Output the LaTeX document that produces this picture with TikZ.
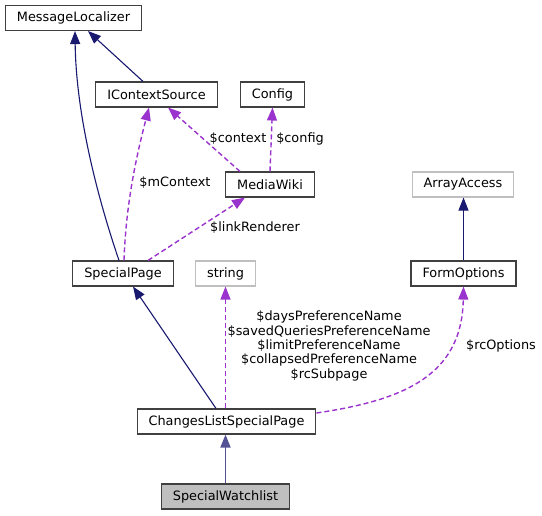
\documentclass[tikz,border=0pt]{standalone}
\usepackage{fontspec}
\setmainfont{DejaVu Sans}
\usetikzlibrary{arrows.meta}
\definecolor{mnblue}{RGB}{25,25,112}
\definecolor{dorchid}{RGB}{154,50,205}
\definecolor{boxgray}{RGB}{191,191,191}
\tikzset{
  cls/.style={draw=black!75, line width=1.1bp, minimum height=25bp, inner xsep=11.5bp, inner ysep=0pt,
    font=\fontsize{12.9}{14.5}\selectfont},
  extcls/.style={cls, draw=boxgray},
  focuscls/.style={cls, fill=boxgray},
  inherit/.style={mnblue, line width=1.1bp, -{Triangle[length=13bp,width=10bp]}},
  usage/.style={dorchid, line width=1.4bp, dash pattern=on 5bp off 3bp, -{Triangle[length=13bp,width=10bp]}},
  lbl/.style={font=\fontsize{12.9}{14.5}\selectfont, align=center, inner sep=0pt}
}
\begin{document}
\begin{tikzpicture}[x=1bp,y=-1bp]
  \useasboundingbox (0,0) rectangle (542,516);
  % classes
  \node[cls] (msgloc) at (73.5,18) {MessageLocalizer};
  \node[cls] (ctxsrc) at (156.5,94.5) {IContextSource};
  \node[cls] (config) at (272.5,94.5) {Config};
  \node[cls] (mediawiki) at (270,184.5) {MediaWiki};
  \node[extcls] (arracc) at (463,184.5) {ArrayAccess};
  \node[cls] (specpage) at (123,273.5) {SpecialPage};
  \node[extcls] (string) at (225.5,273.5) {string};
  \node[cls] (formopt) at (463.5,273.5) {FormOptions};
  \node[cls] (clspage) at (226.5,421.5) {ChangesListSpecialPage};
  \node[focuscls] (watchlist) at (225.5,496.5) {SpecialWatchlist};

  % inheritance
  \draw[inherit] ([xshift=-4bp]specpage.north) .. controls (95,190) and (76,110) .. ([xshift=1.5bp]msgloc.south);
  \draw[inherit] ([xshift=-13.5bp]ctxsrc.north) -- ([xshift=14.5bp]msgloc.south);
  \draw[inherit] (formopt.north) -- (formopt.north |- arracc.south);
  \draw[inherit] ([xshift=-10.5bp]clspage.north) -- ([xshift=10bp]specpage.south);
  \draw[inherit, line width=1.8bp, draw=mnblue!75] (watchlist.north) -- ([xshift=-1bp]clspage.south);

  % usage
  \draw[usage] ([xshift=-30bp]mediawiki.north) -- ([xshift=11.5bp]ctxsrc.south);
  \draw[usage] (mediawiki.north) -- (config.south);
  \draw[usage] ([xshift=1bp]specpage.north) .. controls (126,200) and (138,150) .. ([xshift=-7.5bp]ctxsrc.south);
  \draw[usage] ([xshift=25bp]specpage.north) -- ([xshift=-25bp]mediawiki.south);
  \draw[usage] ([xshift=-1bp]clspage.north) -- (string.south);
  \draw[usage] ([yshift=8.5bp]clspage.east) .. controls (405,400) and (462,375) .. (formopt.south);

  % labels
  \node[lbl] (lcontext) at (238,139) {\$context};
  \node[lbl] (lconfig) at (300,139) {\$config};
  \node[lbl] (lmcontext) at (175,183) {\$mContext};
  \node[lbl] (llink) at (255,228) {\$linkRenderer};
  \node[lbl] (lprefs) at (329,346) {\$daysPreferenceName\\\$savedQueriesPreferenceName\\\$limitPreferenceName\\\$collapsedPreferenceName\\\$rcSubpage};
  \node[lbl] (lrcopt) at (501,346) {\$rcOptions};
\end{tikzpicture}
\end{document}
